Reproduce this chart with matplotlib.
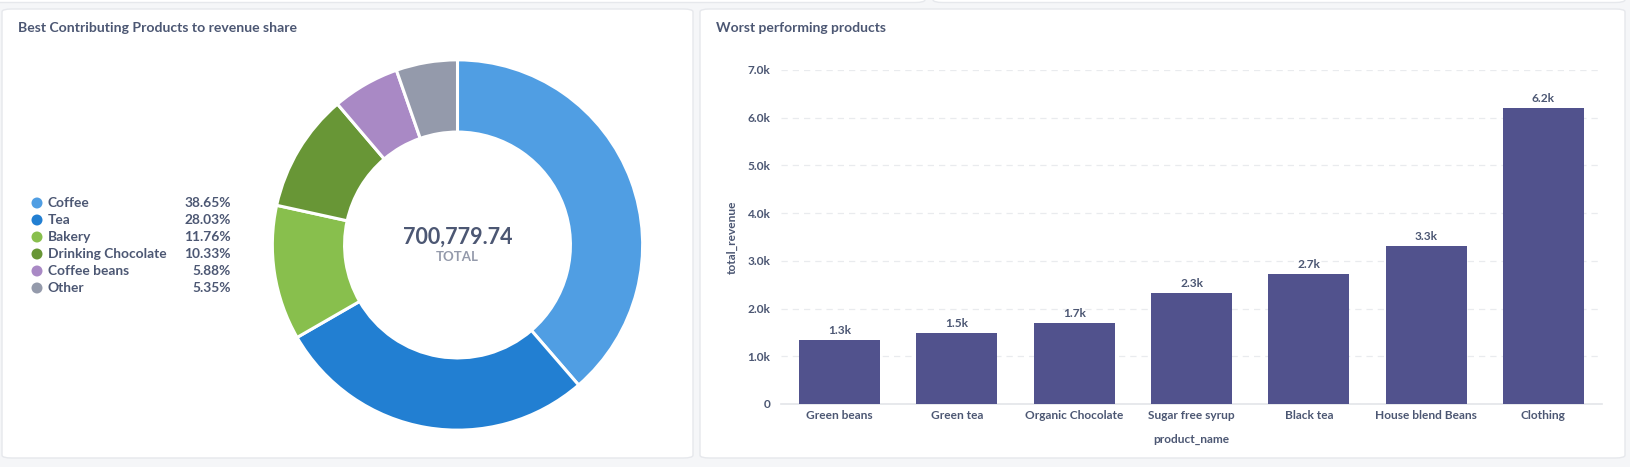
import matplotlib
matplotlib.use("Agg")
import matplotlib.pyplot as plt
from matplotlib.patches import FancyBboxPatch, Ellipse
from matplotlib.ticker import FuncFormatter, MultipleLocator

# ---------------- data ----------------
pie_labels = ["Coffee", "Tea", "Bakery", "Drinking Chocolate", "Coffee beans", "Other"]
pie_shares = [38.65, 28.03, 11.76, 10.33, 5.88, 5.35]
pie_colors = ["#509EE3", "#227FD2", "#88BF4D", "#689636", "#A989C5", "#949AAB"]
pie_total = "700,779.74"

bar_labels = ["Green beans", "Green tea", "Organic Chocolate", "Sugar free syrup",
              "Black tea", "House blend Beans", "Clothing"]
bar_values = [1340, 1490, 1700, 2330, 2725, 3310, 6205]
bar_color = "#51528D"

# ---------------- layout ----------------
W, H = 1631, 467
plt.rcParams['font.family'] = ['Lato', 'DejaVu Sans']
TXT = "#4C5773"
fig = plt.figure(figsize=(W / 100, H / 100), dpi=100)
fig.patch.set_facecolor("#F5F6F8")


def fx(px):
    return px / W


def fy(py):
    return 1 - py / H


def card(x0, y0, x1, y1):
    p = FancyBboxPatch((fx(x0), fy(y1)), fx(x1) - fx(x0), fy(y0) - fy(y1),
                       boxstyle="round,pad=0,rounding_size=0.006",
                       transform=fig.transFigure, facecolor="white",
                       edgecolor="#E6E8EC", linewidth=1.0, zorder=-5)
    fig.patches.append(p)


card(-20, -20, 925, 2.5)
card(933, -20, 1625, 2.5)
card(2, 9, 693, 458)
card(700, 9, 1625, 458)

# titles
fig.text(fx(18), fy(28), "Best Contributing Products to revenue share", fontsize=10.05,
         fontweight="bold", color=TXT, va="center", ha="left")
fig.text(fx(716), fy(28), "Worst performing products", fontsize=10.0,
         fontweight="bold", color=TXT, va="center", ha="left")

# ---------------- donut ----------------
cx, cy, R = 457.5, 245, 187
axp = fig.add_axes([fx(cx - R), fy(cy + R), fx(2 * R), (2 * R) / H])
axp.pie(pie_shares, colors=pie_colors, startangle=90, counterclock=False, radius=1,
        wedgeprops=dict(width=0.39, edgecolor="white", linewidth=2.2))
axp.set_xlim(-1.01, 1.01)
axp.set_ylim(-1.01, 1.01)
axp.set_aspect("equal")
axp.axis("off")
fig.text(fx(cx), fy(237), pie_total, fontsize=15.5, fontweight="bold", color=TXT,
         ha="center", va="center")
fig.text(fx(cx), fy(257), "TOTAL", fontsize=9.5, fontweight="bold", color="#949AAB",
         ha="center", va="center")

# legend
row_y0, row_dy = 203, 17
for i, (lab, val, col) in enumerate(zip(pie_labels, pie_shares, pie_colors)):
    yy = row_y0 + i * row_dy
    fig.patches.append(Ellipse((fx(37), fy(yy)), 11 / W, 11 / H, transform=fig.transFigure,
                               facecolor=col, edgecolor="none", zorder=2))
    fig.text(fx(48), fy(yy), lab, fontsize=9.9, fontweight="bold", color=TXT,
             ha="left", va="center")
    fig.text(fx(231), fy(yy), f"{val:.2f}%", fontsize=9.9, fontweight="bold", color=TXT,
             ha="right", va="center")

# ---------------- bar chart ----------------
ax = fig.add_axes([fx(781), fy(404), fx(1602) - fx(781), (404 - 70) / H])
ax.set_facecolor("none")
xs = list(range(len(bar_labels)))
ax.bar(xs, bar_values, width=0.69, color=bar_color, zorder=3)
ax.set_xlim(-0.5, len(bar_labels) - 0.5)
ax.set_ylim(0, 7000)
ax.yaxis.set_major_locator(MultipleLocator(1000))
ax.yaxis.set_major_formatter(FuncFormatter(lambda v, p: "0" if v == 0 else f"{v/1000:.1f}k"))
ax.set_xticks(xs)
ax.set_xticklabels(bar_labels)
for s in ["top", "right", "left"]:
    ax.spines[s].set_visible(False)
ax.spines["bottom"].set_color("#E3E5E9")
ax.spines["bottom"].set_linewidth(1.2)
ax.grid(axis="y", color="#E9EBEE", linestyle=(0, (5, 4)), linewidth=0.9, zorder=0)
ax.tick_params(axis="both", length=0, colors=TXT, labelsize=8.6)
ax.tick_params(axis="y", pad=7.5)
ax.tick_params(axis="x", pad=4)
for lbl in ax.get_xticklabels() + ax.get_yticklabels():
    lbl.set_fontweight("bold")
for i, v in enumerate(bar_values):
    ax.annotate(f"{v/1000:.1f}k", (i, v), xytext=(0, 4), textcoords="offset pixels",
                ha="center", va="bottom", fontsize=8.6, fontweight="bold", color=TXT)
fig.text(fx(732), fy(237), "total_revenue", rotation=90, fontsize=8.6, fontweight="bold",
         color=TXT, ha="center", va="center")
fig.text(fx(1191), fy(439), "product_name", fontsize=8.6, fontweight="bold",
         color=TXT, ha="center", va="center")

fig.savefig("out.png", dpi=100, facecolor=fig.get_facecolor())
